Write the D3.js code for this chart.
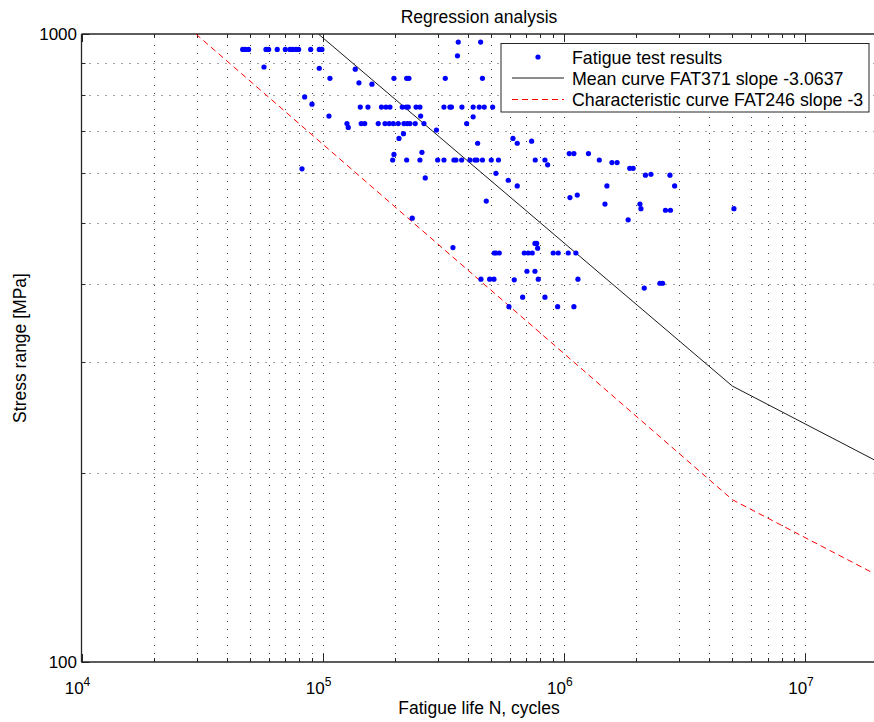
<!DOCTYPE html>
<html>
<head>
<meta charset="utf-8">
<script src="https://cdn.jsdelivr.net/npm/d3@7"></script>
<style>
  body { margin: 0; background: #fff; }
  svg { display: block; }
  text { font-family: "Liberation Sans", Arial, sans-serif; fill: #000; }
</style>
</head>
<body>
<svg id="chart" width="874" height="722"></svg>
<script>
// fatigue test results: [cycles N, stress range MPa]
const testResults = [
  [46600,945],[47800,945],[49300,945],[58200,945],[59700,945],[64800,945],[70000,945],
  [73200,945],[75100,945],[77500,945],[79500,945],[89200,945],[96800,945],[99300,945],
  [57100,886],[96800,882],[107200,850],[84200,794],[90300,773],[106200,740],[82100,610],
  [364900,971],[451900,971],[362200,923],[136500,879],
  [197500,850],[223000,850],[227900,850],[322400,850],[459700,850],
  [141400,836],[160100,832],
  [143200,765],[154100,765],[175300,765],[183000,765],[190100,765],[213800,765],[222000,765],
  [226400,765],[244000,765],[253100,765],[318400,765],[337000,765],[342000,765],[378000,765],
  [420700,765],[445900,765],[467700,765],[506800,765],
  [254800,740],[420700,738],[126100,720],[127700,710],
  [144500,720],[149400,720],[170000,720],[181300,720],[188800,720],[196200,720],[205800,720],
  [217300,720],[224300,720],[230100,720],[242000,720],[263000,720],[395400,720],
  [296400,703],[216300,694],[207200,682],[615200,682],[641000,670],[439100,670],[735400,675],
  [197500,643],[258000,648],[1053000,645],[1101000,645],[1265000,645],
  [1403000,630],[1583000,624],[1663000,624],[1876000,611],[1938000,611],
  [2180000,596],[2297000,598],[2754000,596],[2880000,573],
  [195100,630],[223000,630],[253100,630],[299800,630],[318400,630],[350200,630],[357000,630],
  [377000,630],[408100,630],[428000,630],[436200,630],[459700,630],[500000,630],[535700,630],
  [761100,630],[835000,630],[856800,619],
  [266300,590],[523000,600],[588300,585],[641000,573],[476800,542],
  [1060000,549],[1137000,554],[1509000,573],[1481000,536],[2068000,536],[2088000,527],
  [2638000,524],[2767000,524],[1848000,506],[235200,509],[5073000,527],
  [346900,457],
  [514600,448],[523000,448],[539800,448],[685300,448],[711900,448],[739600,448],[903600,448],
  [948000,448],[1043000,448],[1122000,448],
  [759000,464],[771400,464],[778700,456],
  [703100,419],[759000,419],[783300,407],[1144000,407],
  [453200,407],[492400,407],[513100,407],[622900,406],
  [674900,381],[835000,381],[592200,368],[942500,368],[1101000,368],
  [2155000,394],[2503000,401],[2568000,401]
];

// S-N curves (knee at 5e6 cycles)
const meanCurve = [[96000,1000],[5e6,275],[2e7,208.5]];
const charCurve = [[29800,1000],[5e6,181.3],[2e7,137.4]];

const legendLabels = [
  "Fatigue test results",
  "Mean curve FAT371 slope -3.0637",
  "Characteristic curve FAT246 slope -3"
];
const xDomain = [1e4, 2e7];
const yDomain = [100, 1000];

const svg = d3.select("#chart");
const plotLeft = 81.5, plotTop = 34, plotBottom = 662, plotRight = 877.6;

const x = d3.scaleLog().domain(xDomain).range([plotLeft, plotRight]);
const y = d3.scaleLog().domain(yDomain).range([plotBottom, plotTop]);

svg.append("defs").append("clipPath").attr("id", "plotclip")
  .append("rect").attr("x", plotLeft).attr("y", plotTop)
  .attr("width", plotRight - plotLeft).attr("height", plotBottom - plotTop);

// grid (dotted, major + minor)
const grid = svg.append("g").attr("stroke", "#444").attr("stroke-width", 1)
  .attr("stroke-dasharray", "1,7");
x.ticks().filter(d => d > xDomain[0]).forEach(d => {
  const px = Math.round(x(d)) + 0.5;
  grid.append("line").attr("x1", px).attr("x2", px).attr("y1", plotBottom).attr("y2", plotTop);
});
y.ticks().filter(d => d > yDomain[0] && d < yDomain[1]).forEach(d => {
  const py = Math.round(y(d)) + 0.5;
  grid.append("line").attr("x1", plotLeft).attr("x2", 874).attr("y1", py).attr("y2", py);
});

// ticks
const isMajor = d => Math.abs(Math.log10(d) - Math.round(Math.log10(d))) < 1e-9;
const ticks = svg.append("g").attr("stroke", "#262626").attr("stroke-width", 1);
x.ticks().forEach(d => {
  const px = Math.round(x(d)) + 0.5;
  const len = isMajor(d) ? 8 : 4;
  ticks.append("line").attr("x1", px).attr("x2", px).attr("y1", plotBottom).attr("y2", plotBottom - len);
  ticks.append("line").attr("x1", px).attr("x2", px).attr("y1", plotTop).attr("y2", plotTop + len);
});
y.ticks().forEach(d => {
  const py = Math.round(y(d)) + 0.5;
  const len = isMajor(d) ? 8 : 4;
  ticks.append("line").attr("x1", plotLeft).attr("x2", plotLeft + len).attr("y1", py).attr("y2", py);
});

// axes box (right side falls outside the picture)
const box = svg.append("g").attr("stroke", "#262626").attr("stroke-width", 1.3).attr("fill", "none");
box.append("line").attr("x1", plotLeft).attr("x2", 874).attr("y1", plotBottom).attr("y2", plotBottom);
box.append("line").attr("x1", plotLeft).attr("x2", 874).attr("y1", plotTop).attr("y2", plotTop);
box.append("line").attr("x1", plotLeft).attr("x2", plotLeft).attr("y1", plotTop).attr("y2", plotBottom);

// tick labels
x.ticks().filter(isMajor).forEach(d => {
  const t = svg.append("text").attr("x", x(d) - 4).attr("y", 694)
    .attr("text-anchor", "middle").style("font-size", "17px");
  t.append("tspan").text("10");
  t.append("tspan").attr("dy", -8).style("font-size", "12px").text(Math.round(Math.log10(d)));
});
y.ticks().filter(isMajor).forEach(d => {
  svg.append("text").attr("x", 77).attr("y", y(d) + 6)
    .attr("text-anchor", "end").style("font-size", "17px").text(d);
});

// curves
const line = d3.line().x(d => x(d[0])).y(d => y(d[1]));
const plot = svg.append("g").attr("clip-path", "url(#plotclip)");
plot.append("path").datum(meanCurve).attr("d", line)
  .attr("fill", "none").attr("stroke", "#1a1a1a").attr("stroke-width", 1);
plot.append("path").datum(charCurve).attr("d", line)
  .attr("fill", "none").attr("stroke", "#ff0000").attr("stroke-width", 1)
  .attr("stroke-dasharray", "6,4");

plot.selectAll("circle").data(testResults).join("circle")
  .attr("cx", d => x(d[0])).attr("cy", d => y(d[1])).attr("r", 2.6)
  .attr("fill", "#0000ff");

// titles
svg.append("text").attr("x", 479).attr("y", 23).attr("text-anchor", "middle")
  .style("font-size", "17.5px").text("Regression analysis");
svg.append("text").attr("x", 479).attr("y", 714).attr("text-anchor", "middle")
  .style("font-size", "17.5px").text("Fatigue life N, cycles");
svg.append("text").attr("transform", "translate(26,348) rotate(-90)")
  .attr("text-anchor", "middle").style("font-size", "17.5px").text("Stress range [MPa]");

// legend
const lg = svg.append("g");
lg.append("rect").attr("x", 501).attr("y", 43.5).attr("width", 368).attr("height", 68.5)
  .attr("fill", "#fff").attr("stroke", "#262626").attr("stroke-width", 1);
const rowY = [57, 78, 99.5];
lg.append("circle").attr("cx", 538).attr("cy", rowY[0]).attr("r", 2.6).attr("fill", "#0000ff");
lg.append("line").attr("x1", 512).attr("x2", 564).attr("y1", rowY[1]).attr("y2", rowY[1])
  .attr("stroke", "#1a1a1a").attr("stroke-width", 1);
lg.append("line").attr("x1", 512).attr("x2", 564).attr("y1", rowY[2]).attr("y2", rowY[2])
  .attr("stroke", "#ff0000").attr("stroke-width", 1).attr("stroke-dasharray", "6,4");
legendLabels.forEach((s, i) => {
  lg.append("text").attr("x", 572).attr("y", rowY[i] + 6.5).style("font-size", "17.8px").text(s);
});
</script>
</body>
</html>
